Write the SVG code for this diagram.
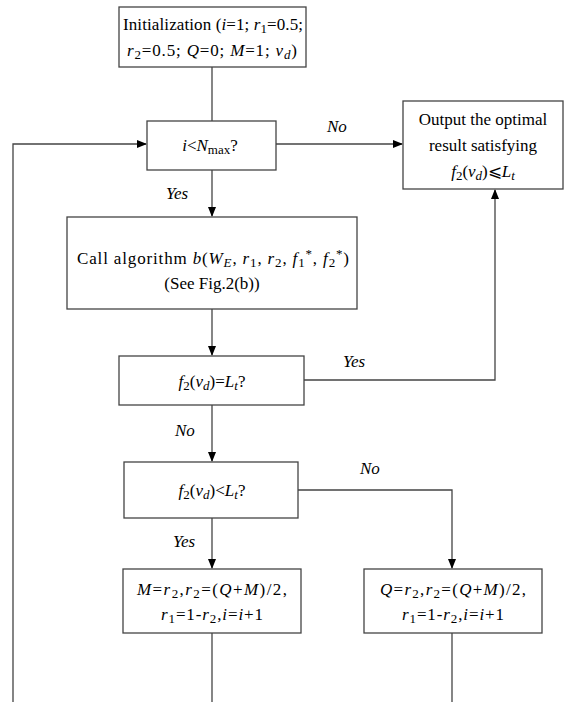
<svg xmlns="http://www.w3.org/2000/svg" width="576" height="702" viewBox="0 0 576 702">
<style>
text{font-family:"Liberation Serif","Times New Roman",serif;font-size:17px;fill:#000}
.c{text-anchor:middle}
.i{font-style:italic}
.s{font-size:13px}
.box{fill:#fff;stroke:#444;stroke-width:1.3}
.ln{fill:none;stroke:#444;stroke-width:1.3}
</style>
<defs>
<marker id="ah" markerWidth="10" markerHeight="8" refX="9" refY="4" orient="auto" markerUnits="userSpaceOnUse">
<path d="M0,0 L10,4 L0,8 z" fill="#000"/>
</marker>
</defs>
<g id="connectors">
<path class="ln" d="M212,67 V121"/>
<path class="ln" d="M276,144 H402" marker-end="url(#ah)"/>
<path class="ln" d="M212,170 V216" marker-end="url(#ah)"/>
<path class="ln" d="M212,309 V355" marker-end="url(#ah)"/>
<path class="ln" d="M304,380 H495 V190" marker-end="url(#ah)"/>
<path class="ln" d="M212,405 V461" marker-end="url(#ah)"/>
<path class="ln" d="M298,490 H452 V568" marker-end="url(#ah)"/>
<path class="ln" d="M212,518 V568" marker-end="url(#ah)"/>
<path class="ln" d="M212,633 V702"/>
<path class="ln" d="M452,633 V702"/>
<path class="ln" d="M13,702 V144 H146" marker-end="url(#ah)"/>
<text class="i" x="327" y="132">No</text>
<text class="i" x="166" y="199">Yes</text>
<text class="i" x="343" y="367">Yes</text>
<text class="i" x="175" y="436">No</text>
<text class="i" x="360" y="474">No</text>
<text class="i" x="173" y="547">Yes</text>
</g>
<g id="init">
<rect class="box" x="119" y="7" width="187" height="60"/>
<text class="c" x="213" y="30" textLength="180" lengthAdjust="spacing">Initialization (<tspan class="i">i</tspan>=1; <tspan class="i">r</tspan><tspan class="s" dy="3">1</tspan><tspan dy="-3">=0.5;</tspan></text>
<text class="c" x="212" y="56" textLength="170" lengthAdjust="spacing"><tspan class="i">r</tspan><tspan class="s" dy="3">2</tspan><tspan dy="-3">=0.5; </tspan><tspan class="i">Q</tspan>=0; <tspan class="i">M</tspan>=1; <tspan class="i">v</tspan><tspan class="s i" dy="3">d</tspan><tspan dy="-3">)</tspan></text>
</g>
<g id="cond1">
<rect class="box" x="147" y="121" width="129" height="49"/>
<text class="c" x="210" y="151"><tspan class="i">i</tspan>&lt;<tspan class="i">N</tspan><tspan class="s" dy="3">max</tspan><tspan dy="-3">?</tspan></text>
</g>
<g id="output">
<rect class="box" x="403" y="101" width="160" height="88"/>
<text class="c" x="483" y="125">Output the optimal</text>
<text class="c" x="483" y="151">result satisfying</text>
<text class="c" x="483" y="177"><tspan class="i">f</tspan><tspan class="s" dy="3">2</tspan><tspan dy="-3">(</tspan><tspan class="i">v</tspan><tspan class="s i" dy="3">d</tspan><tspan dy="-3">)⩽</tspan><tspan class="i">L</tspan><tspan class="s i" dy="3">t</tspan></text>
</g>
<g id="call">
<rect class="box" x="67" y="217" width="290" height="92"/>
<text class="c" x="213" y="264" textLength="272" lengthAdjust="spacing">Call algorithm <tspan class="i">b</tspan>(<tspan class="i">W</tspan><tspan class="s i" dy="3">E</tspan><tspan dy="-3">, </tspan><tspan class="i">r</tspan><tspan class="s" dy="3">1</tspan><tspan dy="-3">, </tspan><tspan class="i">r</tspan><tspan class="s" dy="3">2</tspan><tspan dy="-3">, </tspan><tspan class="i">f</tspan><tspan class="s" dy="3">1</tspan><tspan class="s" dy="-9">*</tspan><tspan dy="6">, </tspan><tspan class="i">f</tspan><tspan class="s" dy="3">2</tspan><tspan class="s" dy="-9">*</tspan><tspan dy="6">)</tspan></text>
<text class="c" x="212" y="289">(See Fig.2(b))</text>
</g>
<g id="cond2">
<rect class="box" x="119" y="356" width="185" height="49"/>
<text class="c" x="212" y="387"><tspan class="i">f</tspan><tspan class="s" dy="3">2</tspan><tspan dy="-3">(</tspan><tspan class="i">v</tspan><tspan class="s i" dy="3">d</tspan><tspan dy="-3">)=</tspan><tspan class="i">L</tspan><tspan class="s i" dy="3">t</tspan><tspan dy="-3">?</tspan></text>
</g>
<g id="cond3">
<rect class="box" x="124" y="462" width="174" height="56"/>
<text class="c" x="212" y="496"><tspan class="i">f</tspan><tspan class="s" dy="3">2</tspan><tspan dy="-3">(</tspan><tspan class="i">v</tspan><tspan class="s i" dy="3">d</tspan><tspan dy="-3">)&lt;</tspan><tspan class="i">L</tspan><tspan class="s i" dy="3">t</tspan><tspan dy="-3">?</tspan></text>
</g>
<g id="updateM">
<rect class="box" x="123" y="569" width="178" height="64"/>
<text class="c" x="212" y="595" textLength="150" lengthAdjust="spacing"><tspan class="i">M</tspan>=<tspan class="i">r</tspan><tspan class="s" dy="3">2</tspan><tspan dy="-3">,</tspan><tspan class="i">r</tspan><tspan class="s" dy="3">2</tspan><tspan dy="-3">=(</tspan><tspan class="i">Q</tspan>+<tspan class="i">M</tspan>)/2,</text>
<text class="c" x="212" y="620" textLength="102" lengthAdjust="spacing"><tspan class="i">r</tspan><tspan class="s" dy="3">1</tspan><tspan dy="-3">=1-</tspan><tspan class="i">r</tspan><tspan class="s" dy="3">2</tspan><tspan dy="-3">,</tspan><tspan class="i">i</tspan>=<tspan class="i">i</tspan>+1</text>
</g>
<g id="updateQ">
<rect class="box" x="364" y="569" width="178" height="64"/>
<text class="c" x="453" y="595" textLength="146" lengthAdjust="spacing"><tspan class="i">Q</tspan>=<tspan class="i">r</tspan><tspan class="s" dy="3">2</tspan><tspan dy="-3">,</tspan><tspan class="i">r</tspan><tspan class="s" dy="3">2</tspan><tspan dy="-3">=(</tspan><tspan class="i">Q</tspan>+<tspan class="i">M</tspan>)/2,</text>
<text class="c" x="453" y="620" textLength="102" lengthAdjust="spacing"><tspan class="i">r</tspan><tspan class="s" dy="3">1</tspan><tspan dy="-3">=1-</tspan><tspan class="i">r</tspan><tspan class="s" dy="3">2</tspan><tspan dy="-3">,</tspan><tspan class="i">i</tspan>=<tspan class="i">i</tspan>+1</text>
</g>
</svg>
